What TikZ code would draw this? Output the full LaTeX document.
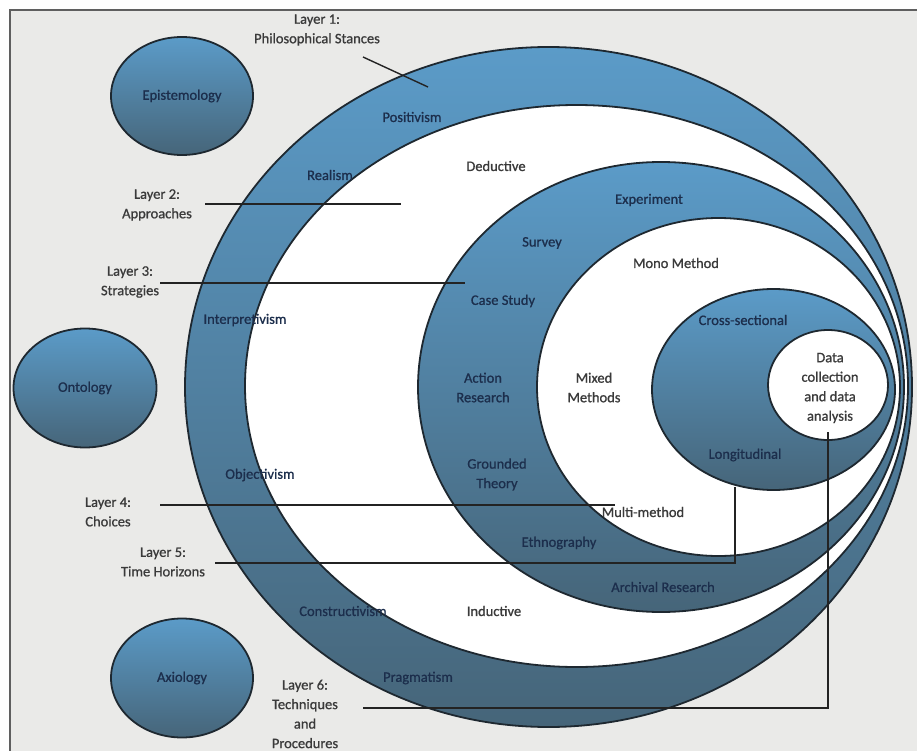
\documentclass[tikz,border=0pt]{standalone}
\usepackage{fontspec}
\setmainfont{Carlito}[FakeBold=0.9]
\usetikzlibrary{shapes.geometric}

\definecolor{paper}{RGB}{234,234,232}
\definecolor{framegray}{RGB}{95,95,95}
\definecolor{shadetop}{RGB}{91,155,200}
\definecolor{shadebot}{RGB}{70,101,121}
\definecolor{ringline}{RGB}{30,40,48}
\definecolor{navy}{RGB}{28,46,76}
\definecolor{textgray}{RGB}{58,58,58}
\definecolor{leader}{RGB}{35,35,35}

\begin{document}
\begin{tikzpicture}[x=1pt,y=-1pt,
  ring/.style={ellipse, draw=ringline, line width=1.8pt, inner sep=0pt},
  bluering/.style={ring, top color=shadetop, bottom color=shadebot},
  whitering/.style={ring, fill=white},
  lbl/.style={font=\fontsize{14.5}{19.5}\selectfont, align=center, inner sep=0pt},
  inblue/.style={lbl, text=navy},
  inwhite/.style={lbl, text=textgray},
  leaderline/.style={draw=leader, line width=1.4pt}
]
\useasboundingbox (0,0) rectangle (917,751);

% page and frame
\fill[white] (0,0) rectangle (917,751);
\fill[paper] (10,10) rectangle (917,751);
\draw[framegray, line width=2pt] (10,751) -- (10,10) -- (917,10);

% the onion: six nested layers
\node[bluering,  minimum width=727pt, minimum height=680pt] (stances)    at (548.5,387) {};
\node[whitering, minimum width=663pt, minimum height=562pt] (approaches) at (576.5,386) {};
\node[bluering,  minimum width=486pt, minimum height=450pt] (strategies) at (661,387) {};
\node[whitering, minimum width=363pt, minimum height=338pt] (choices)    at (718.5,387) {};
\node[bluering,  minimum width=243pt, minimum height=201pt] (horizons)   at (773.5,389.5) {};
\node[whitering, minimum width=120pt, minimum height=110pt] (techniques) at (828,385) {};

% the three philosophical branches
\node[bluering, minimum width=142pt, minimum height=118pt, lbl, text=navy] (epistemology) at (182,96) {Epistemology};
\node[bluering, minimum width=143pt, minimum height=119pt, lbl, text=navy] (ontology) at (85,388) {Ontology};
\node[bluering, minimum width=142pt, minimum height=119pt, lbl, text=navy] (axiology) at (182,678) {Axiology};

% leader lines from the layer captions
\coordinate (l1a) at (363,57);  \coordinate (l1b) at (428,87);
\coordinate (l2a) at (205,204); \coordinate (l2b) at (401,204);
\coordinate (l3a) at (160,283); \coordinate (l3b) at (465,283);
\coordinate (l4a) at (160,505); \coordinate (l4b) at (615,505);
\coordinate (l5a) at (215,563); \coordinate (l5b) at (735,563); \coordinate (l5c) at (735,487);
\coordinate (l6a) at (363,708); \coordinate (l6b) at (828,708); \coordinate (l6c) at (828,432);
\draw[leaderline] (l1a) -- (l1b);
\draw[leaderline] (l2a) -- (l2b);
\draw[leaderline] (l3a) -- (l3b);
\draw[leaderline] (l4a) -- (l4b);
\draw[leaderline] (l5a) -- (l5b) -- (l5c);
\draw[leaderline] (l6a) -- (l6b) -- (l6c);

% layer captions
\node[inwhite] (lay1) at (317,30)  {Layer 1:\\Philosophical Stances};
\node[inwhite] (lay2) at (157,205) {Layer 2:\\Approaches};
\node[inwhite] (lay3) at (130,282) {Layer 3:\\Strategies};
\node[inwhite] (lay4) at (108,512) {Layer 4:\\Choices};
\node[inwhite] (lay5) at (163,562) {Layer 5:\\Time Horizons};
\node[inwhite] (lay6) at (305,714) {Layer 6:\\Techniques\\and\\Procedures};

% layer 1 entries
\node[inblue] (positivism)     at (412,117) {Positivism};
\node[inblue] (realism)        at (330,175) {Realism};
\node[inblue] (interpretivism) at (245,320) {Interpretivism};
\node[inblue] (objectivism)    at (260,475) {Objectivism};
\node[inblue] (constructivism) at (343,611) {Constructivism};
\node[inblue] (pragmatism)     at (418,678) {Pragmatism};

% layer 2 entries
\node[inwhite] (deductive) at (496,166) {Deductive};
\node[inwhite] (inductive) at (494,611) {Inductive};

% layer 3 entries
\node[inblue] (experiment) at (649,200) {Experiment};
\node[inblue] (survey)     at (542,243) {Survey};
\node[inblue] (casestudy)  at (503,301) {Case Study};
\node[inblue] (action)     at (483,387.5) {Action\\Research};
\node[inblue] (grounded)   at (497,474.5) {Grounded\\Theory};
\node[inblue] (ethno)      at (559,543) {Ethnography};
\node[inblue] (archival)   at (663,587) {Archival Research};

% layer 4 entries
\node[inwhite] (mono)  at (676,263) {Mono Method};
\node[inwhite] (mixed) at (594,387.5) {Mixed\\Methods};
\node[inwhite] (multi) at (643,512) {Multi-method};

% layer 5 entries
\node[inblue] (cross) at (743,320) {Cross-sectional};
\node[inblue] (longi) at (745,455) {Longitudinal};

% core
\node[inwhite] (core) at (830,388) {Data\\collection\\and data\\analysis};
\end{tikzpicture}
\end{document}
